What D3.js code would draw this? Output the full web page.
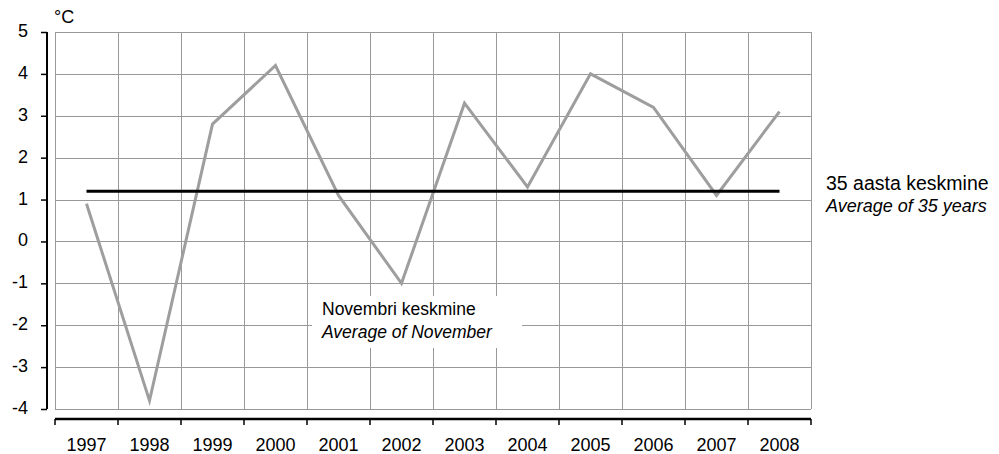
<!DOCTYPE html>
<html>
<head>
<meta charset="utf-8">
<script src="https://cdn.jsdelivr.net/npm/d3@7"></script>
<style>
  body { margin: 0; background: #fff; }
  text { font-family: "Liberation Sans", Arial, sans-serif; fill: #000; }
</style>
</head>
<body>
<svg id="chart" width="999" height="454"></svg>
<script>
const years = ['1997', '1998', '1999', '2000', '2001', '2002', '2003', '2004', '2005', '2006', '2007', '2008'];
const novemberTemps = [0.9, -3.8, 2.8, 4.2, 1.1, -1.0, 3.3, 1.3, 4.0, 3.2, 1.1, 3.1];
const average35 = [1.2, 1.2, 1.2, 1.2, 1.2, 1.2, 1.2, 1.2, 1.2, 1.2, 1.2, 1.2];
const yTicks = [-4, -3, -2, -1, 0, 1, 2, 3, 4, 5];

const svg = d3.select('#chart');
const plotL = 55, plotR = 811, plotT = 32, plotB = 409;

const x = d3.scaleBand().domain(years).range([plotL, plotR]);
const y = d3.scaleLinear().domain([-4, 5]).range([plotB, plotT]);
const cx = d => x(d) + x.bandwidth() / 2;

// grid
const grid = svg.append('g').attr('stroke', '#999').attr('stroke-width', 1);
grid.selectAll('.hg')
  .data(yTicks)
  .enter()
  .append('line')
  .attr('x1', plotL).attr('x2', plotR)
  .attr('y1', d => Math.round(y(d)) + 0.5)
  .attr('y2', d => Math.round(y(d)) + 0.5);
grid.selectAll('.vg')
  .data(years.concat(['end']))
  .enter()
  .append('line')
  .attr('x1', (d, i) => Math.round(plotL + i * x.bandwidth()) + 0.5)
  .attr('x2', (d, i) => Math.round(plotL + i * x.bandwidth()) + 0.5)
  .attr('y1', plotT).attr('y2', plotB);

// y axis
const yAxis = svg.append('g')
  .attr('transform', 'translate(47,0)')
  .call(d3.axisLeft(y).tickValues(yTicks).tickSize(6).tickPadding(13).tickFormat(d => String(d)));
yAxis.select('.domain').attr('stroke-width', 2).attr('d', `M0,${plotT}V${plotB}`);
yAxis.selectAll('.tick line').attr('stroke-width', 1.5);
yAxis.selectAll('text').style('font-size', '18px').attr('dy', '0.25em');

// x axis
const xAxis = svg.append('g')
  .attr('transform', 'translate(0,419)')
  .call(d3.axisBottom(x).tickSize(0).tickPadding(19));
xAxis.select('.domain').attr('stroke-width', 2.5).attr('d', `M${plotL},0H${plotR}`);
xAxis.selectAll('text').style('font-size', '18px');
xAxis.selectAll('.bt')
  .data(years.concat(['end']))
  .enter()
  .append('line')
  .attr('stroke', '#000')
  .attr('stroke-width', 1.5)
  .attr('x1', (d, i) => plotL + i * x.bandwidth())
  .attr('x2', (d, i) => plotL + i * x.bandwidth())
  .attr('y1', 0).attr('y2', 6);

svg.append('text').attr('x', 54).attr('y', 23).style('font-size', '18px').text('°C');

// label box for November series
svg.append('rect')
  .attr('x', 312).attr('y', 296).attr('width', 210).attr('height', 52)
  .attr('fill', '#fff');
svg.append('text').attr('x', 322).attr('y', 315).style('font-size', '17.5px').text('Novembri keskmine');
svg.append('text').attr('x', 322).attr('y', 338).style('font-size', '17.5px').style('font-style', 'italic').text('Average of November');

// lines
const line = d3.line().x((d, i) => cx(years[i])).y(d => y(d));
svg.append('path')
  .datum(novemberTemps)
  .attr('fill', 'none')
  .attr('stroke', '#9e9e9e')
  .attr('stroke-width', 3)
  .attr('d', line);
svg.append('path')
  .datum(average35)
  .attr('fill', 'none')
  .attr('stroke', '#000')
  .attr('stroke-width', 3)
  .attr('d', line);

svg.append('text').attr('x', 826).attr('y', 190).style('font-size', '19.5px').text('35 aasta keskmine');
svg.append('text').attr('x', 826).attr('y', 212).style('font-size', '18px').style('font-style', 'italic').text('Average of 35 years');
</script>
</body>
</html>
